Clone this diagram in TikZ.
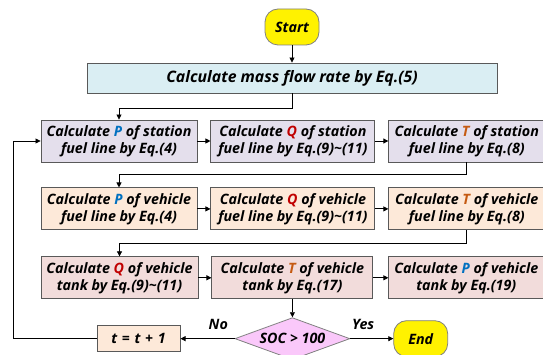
\documentclass[tikz,border=0pt]{standalone}
\usepackage{fontspec}
\setmainfont{Open Sans}
\usetikzlibrary{arrows.meta,positioning,shapes.geometric}

\definecolor{termyellow}{RGB}{255,242,0}
\definecolor{massblue}{RGB}{218,238,243}
\definecolor{stationfill}{RGB}{228,223,236}
\definecolor{vehiclefill}{RGB}{253,233,217}
\definecolor{tankfill}{RGB}{242,220,219}
\definecolor{socfill}{RGB}{250,200,250}
\definecolor{boxline}{RGB}{89,89,89}
\definecolor{pblue}{RGB}{0,112,192}
\definecolor{qred}{RGB}{192,0,0}
\definecolor{torange}{RGB}{197,90,17}

\newcommand{\varP}{\textcolor{pblue}{P}}
\newcommand{\varQ}{\textcolor{qred}{Q}}
\newcommand{\varT}{\textcolor{torange}{T}}
\newcommand{\tld}{\textasciitilde}

\begin{document}
\begin{tikzpicture}[x=1pt,y=-1pt,
node distance=25pt and 13pt,
font=\bfseries\itshape\fontsize{14.3}{17}\selectfont,
box/.style={draw=boxline,line width=0.9pt,align=center,minimum height=42pt,inner sep=1pt},
term/.style={draw=gray,line width=0.8pt,fill=termyellow,rounded corners=13pt,minimum width=54pt,minimum height=36pt},
dec/.style={diamond,draw=gray,line width=0.8pt,fill=socfill,aspect=2.7,inner sep=0pt,minimum width=115pt,minimum height=42pt},
arr/.style={-{Triangle[length=5pt,width=5pt]},line width=0.8pt}]
\useasboundingbox (0,0) rectangle (543,355);
\node[term] (start) at (292,27) {Start};
\node[box,fill=massblue,minimum width=410pt,minimum height=30pt,font=\bfseries\itshape\fontsize{15.8}{18}\selectfont] (mass) at (292,78) {Calculate mass flow rate by Eq.(5)};
% station fuel line
\node[box,fill=stationfill,minimum width=156pt] (sP) at (119,141) {Calculate \varP{} of station\\fuel line by Eq.(4)};
\node[box,fill=stationfill,minimum width=164pt,right=of sP] (sQ) {Calculate \varQ{} of station\\fuel line by Eq.(9)\tld(11)};
\node[box,fill=stationfill,minimum width=156pt,right=of sQ] (sT) {Calculate \varT{} of station\\fuel line by Eq.(8)};
% vehicle fuel line
\node[box,fill=vehiclefill,minimum width=156pt,below=of sP] (vP) {Calculate \varP{} of vehicle\\fuel line by Eq.(4)};
\node[box,fill=vehiclefill,minimum width=164pt,right=of vP] (vQ) {Calculate \varQ{} of vehicle\\fuel line by Eq.(9)\tld(11)};
\node[box,fill=vehiclefill,minimum width=156pt,right=of vQ] (vT) {Calculate \varT{} of vehicle\\fuel line by Eq.(8)};
% vehicle tank
\node[box,fill=tankfill,minimum width=157pt,below=26pt of vP.south west,anchor=north west] (kQ) {Calculate \varQ{} of vehicle\\tank by Eq.(9)\tld(11)};
\node[box,fill=tankfill,minimum width=161pt,right=of kQ] (kT) {Calculate \varT{} of vehicle\\tank by Eq.(17)};
\node[box,fill=tankfill,minimum width=155pt,right=15pt of kT] (kP) {Calculate \varP{} of vehicle\\tank by Eq.(19)};
% decision
\node[dec,below=18pt of kT] (soc) {SOC > 100};
\node[box,fill=vehiclefill,minimum width=83pt,minimum height=26pt,left=54pt of soc] (tinc) {t\,\,=\,\,t\,\,+\,\,1};
\node[term,right=43pt of soc] (end) {End};

\draw[arr] (start) -- (mass);
\draw[arr] (mass.south) -- ++(0,15) -| (sP.north);
\draw[arr] (sP) -- (sQ);
\draw[arr] (sQ) -- (sT);
\draw[arr] (sT.south) -- ++(0,12) -| (vP.north);
\draw[arr] (vP) -- (vQ);
\draw[arr] (vQ) -- (vT);
\draw[arr] (vT.south) -- ++(0,13) -| (kQ.north);
\draw[arr] (kQ) -- (kT);
\draw[arr] (kT) -- (kP);
\draw[arr] (kT) -- (soc);
\draw[arr] (soc) -- node[pos=0.3,above=5pt]{No} (tinc);
\draw[arr] (soc) -- node[pos=0.3,above=5pt]{Yes} (end);
\draw[arr] (tinc.west) -- ++(-83,0) |- (sP.west);
\end{tikzpicture}
\end{document}
